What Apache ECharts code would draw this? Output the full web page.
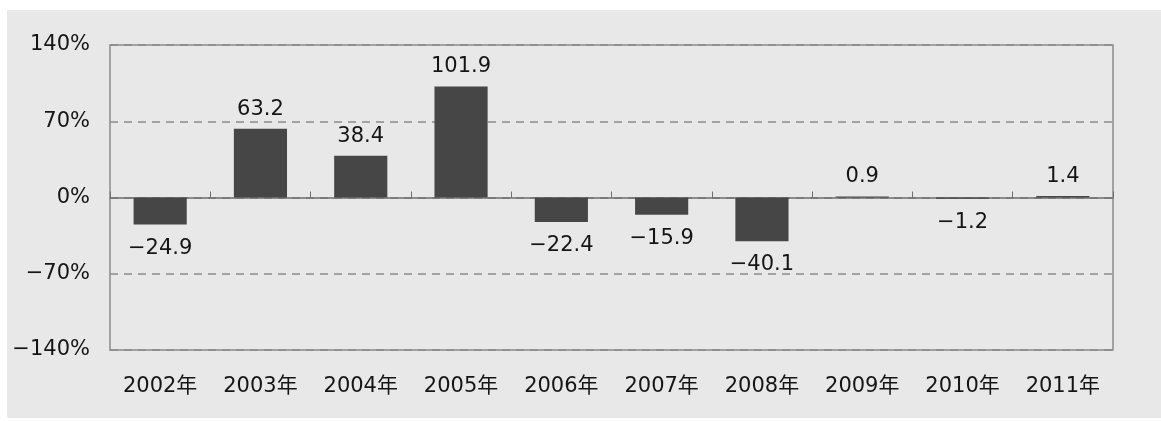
<!DOCTYPE html>
<html>
<head>
<meta charset="utf-8">
<script src="https://cdn.jsdelivr.net/npm/echarts@6/dist/echarts.min.js"></script>
<style>
  html, body { margin: 0; padding: 0; background: #ffffff; }
  #panel { position: absolute; left: 7px; top: 10px; width: 1154px; height: 408px; background: #e8e8e8; }
  #main { position: absolute; left: 0; top: 0; width: 1161px; height: 421px; }
</style>
</head>
<body>
<div id="panel"></div>
<div id="main"></div>
<script>
var years = ['2002年', '2003年', '2004年', '2005年', '2006年', '2007年', '2008年', '2009年', '2010年', '2011年'];
var growth = [-24.9, 63.2, 38.4, 101.9, -22.4, -15.9, -40.1, 0.9, -1.2, 1.4];
var yTicks = [-140, -70, 0, 70, 140];

var font = '"DejaVu Sans", "Noto Sans CJK JP", sans-serif';

// use a real minus sign like the original
function fmt(v) {
  return v < 0 ? '\u2212' + Math.abs(v) : String(v);
}

var myChart = echarts.init(document.getElementById('main'));

// negative bars get their label underneath
var barData = growth.map(function (v) {
  return {
    value: v,
    label: v < 0 ? { position: 'bottom', distance: 13 } : { position: 'top', distance: 9 }
  };
});

var option = {
  backgroundColor: 'transparent',
  animation: false,
  grid: {
    left: 110, right: 48, top: 45, bottom: 71,
    show: true,
    borderColor: '#8a8a8a',
    borderWidth: 1.5,
    backgroundColor: 'transparent'
  },
  xAxis: [
    {
      type: 'category',
      data: years,
      position: 'bottom',
      axisLine: { show: false, onZero: false },
      axisTick: { show: false },
      axisLabel: { margin: 26, fontSize: 21, color: '#151515', fontFamily: font }
    },
    {
      type: 'category',
      data: years,
      position: 'bottom',
      axisLine: { show: true, onZero: true, lineStyle: { color: '#6e6e6e', width: 1.5 } },
      axisTick: { show: true, inside: true, length: 6, lineStyle: { color: '#6e6e6e' } },
      axisLabel: { show: false }
    }
  ],
  yAxis: {
    type: 'value',
    min: yTicks[0],
    max: yTicks[yTicks.length - 1],
    interval: 70,
    axisLine: { show: false },
    axisTick: { show: false },
    axisLabel: {
      margin: 20, fontSize: 21, color: '#151515', fontFamily: font,
      formatter: function (v) { return fmt(v) + '%'; }
    },
    splitLine: { show: true, lineStyle: { color: '#8a8a8a', type: [8, 6], width: 1.5 } }
  },
  series: [
    {
      type: 'bar',
      xAxisIndex: 0,
      data: barData,
      barWidth: '53%',
      itemStyle: { color: '#464646' },
      label: {
        show: true,
        fontSize: 21,
        color: '#151515',
        fontFamily: font,
        formatter: function (p) { return fmt(p.value.toFixed(1) * 1).replace(/^(\u2212?\d+)$/, '$1.0'); }
      }
    }
  ]
};

myChart.setOption(option);
window.addEventListener('resize', myChart.resize);
</script>
</body>
</html>
